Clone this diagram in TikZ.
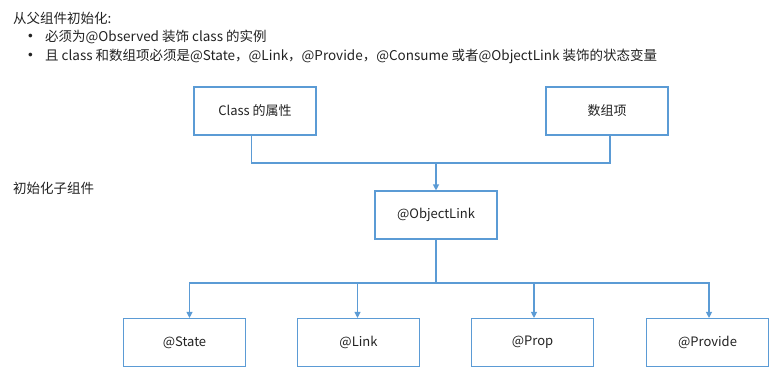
\documentclass[tikz,border=0pt]{standalone}
\usepackage{fontspec}
\setmainfont{Noto Sans CJK SC}
\newfontfamily\bulletfont{Liberation Sans}
\usetikzlibrary{arrows.meta}
\definecolor{boxblue}{HTML}{5B9BD5}
\definecolor{txt}{HTML}{222222}
\begin{document}
\begin{tikzpicture}[x=1pt,y=-1pt,
  every node/.style={font=\fontsize{13}{15}\selectfont, text=txt},
  boxnode/.style={draw=boxblue, line width=1.1pt, minimum width=122pt, minimum height=48pt, inner sep=0pt},
  conn/.style={draw=boxblue, line width=1.1pt},
  arr/.style={conn, -{Triangle[length=6pt,width=6pt]}},
  plain/.style={anchor=west, inner sep=0pt, font=\fontsize{13.5}{15}\selectfont},
  bul/.style={anchor=west, inner sep=0pt, font=\bulletfont\fontsize{13.5}{15}\selectfont}]
\useasboundingbox (0,0) rectangle (778,382);
% texts
\node[plain] (t1) at (13,18) {从父组件初始化:};
\node[bul] (b1) at (28,37) {•};
\node[plain] (t2) at (45,37) {必须为@Observed 装饰 class 的实例};
\node[bul] (b2) at (28,56) {•};
\node[plain] (t3) at (45,56) {且 class 和数组项必须是@State，@Link，@Provide，@Consume 或者@ObjectLink 装饰的状态变量};
\node[plain] (t4) at (13,188) {初始化子组件};
% boxes
\node[boxnode] (cls) at (255,111) {Class 的属性};
\node[boxnode] (arr) at (607,111) {数组项};
\node[boxnode] (ol) at (436,215) {@ObjectLink};
\node[boxnode] (st) at (184.5,342.5) {@State};
\node[boxnode] (lk) at (358.5,342.5) {@Link};
\node[boxnode] (pr) at (532.5,342.5) {@Prop};
\node[boxnode] (pv) at (707.5,342.5) {@Provide};
% connectors
\coordinate (j1) at (436,163);
\coordinate (j2) at (436,283);
\draw[conn] ([xshift=-3.5pt]cls.south) |- (j1) -| ([xshift=3pt]arr.south);
\draw[arr] (j1) -- (ol.north);
\draw[conn] (ol.south) -- (j2);
\draw[arr] (j2) -| ([xshift=5pt]st.north);
\draw[arr] (j2) -| ([xshift=-1pt]lk.north);
\draw[arr] (j2) -| ([xshift=1.5pt]pr.north);
\draw[arr] (j2) -| ([xshift=1.5pt]pv.north);
\end{tikzpicture}
\end{document}
